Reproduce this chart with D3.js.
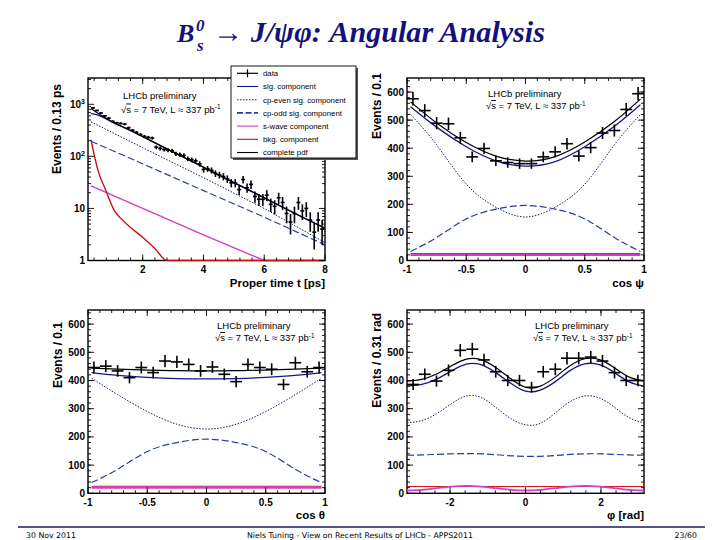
<!DOCTYPE html>
<html><head><meta charset="utf-8">
<script src="https://cdn.jsdelivr.net/npm/d3@7"></script>
<style>body{margin:0;background:#fff} svg{display:block}</style>
</head><body>
<svg id="c" width="720" height="540"></svg>
<script>
// ---------------- DATA ----------------
// Proper time panel
const timeBins = [0.365,0.495,0.625,0.755,0.885,1.015,1.145,1.275,1.405,1.535,1.665,1.795,1.925,2.055,2.185,2.315,2.445,2.575,2.705,2.835,2.965,3.095,3.225,3.355,3.485,3.615,3.745,3.875,4.005,4.135,4.265,4.395,4.525,4.655,4.785,4.915,5.045,5.175,5.305,5.435,5.565,5.695,5.825,5.955,6.085,6.215,6.345,6.475,6.605,6.735,6.865,6.995,7.125,7.255,7.385,7.515,7.645,7.775,7.905];
const timeCounts = [850,760,680,600,540,470,440,430,415,355,318,290,262,242,232,225,150,142,135,132,128,112,108,104,90,86,82,72,56,58,54,47,44,41,37,31,31,23,36,25,29,17,15,15,18,12,11,16,13,8,5.5,8,13,9,10,6,3.5,6,4];
const tGrid = [0.3,0.5,0.75,1,1.5,2,2.5,3,3.5,4,4.5,5,5.5,6,6.5,7,7.5,8];
const tComplete = [830,690,560,460,335,240,171,122,87,62,44,31.5,22.5,16,11.4,8.1,5.8,4.2];
const tSig = [660,625,540,452,333,239,170,121.5,86.7,61.8,43.9,31.4,22.4,15.9,11.35,8.07,5.78,4.18];
const tGrid2 = [0.3,2,4,6,8];
const tEven = [460,147,39,10,2.2];
const tOdd = [195,72,22,6.8,2.0];
const tSwave = [27,10,3.1,0.95,0.29];
const tBkgGrid = [0.3,0.4,0.5,0.6,0.75,0.9,1.05,1.3,1.6,2,2.4,2.8,4,8];
const tBkg = [210,110,62,40,25,15,9.5,6.3,4.3,2.8,1.7,1.0,0.4,0.02];

// cos psi panel
const cosBins = [-0.95,-0.85,-0.75,-0.65,-0.55,-0.45,-0.35,-0.25,-0.15,-0.05,0.05,0.15,0.25,0.35,0.45,0.55,0.65,0.75,0.85,0.95];
const psiCounts = [576,534,489,487,437,369,399,355,349,345,345,369,387,416,372,402,454,463,538,594];
const cosGrid = [-0.97,-0.75,-0.5,-0.25,0,0.25,0.5,0.75,0.97];
const psiComplete = [565,490,420,372,354,370,422,495,575];
const psiSig = [548,475,405,355,336,352,405,478,555];
const psiEven = [520,412,272,190,155,190,272,412,520];
const psiOdd = [32,82,148,183,196,183,148,82,32];
const psiSwave = [20,20,20,20,20,20,20,20,20];
const psiBkg = [25,25,25,25,25,25,25,25,25];

// cos theta panel
const thetaCounts = [446,451,434,410,446,428,469,466,457,434,448,422,396,457,446,440,386,463,431,446];
const thetaComplete = [444,440,437,435,434,435,437,440,444];
const thetaSig = [428,418,411,407,406,407,411,418,428];
const thetaEven = [408,350,290,245,228,245,290,350,408];
const thetaOdd = [38,85,148,180,192,180,148,85,38];
const thetaSwave = [20,20,20,20,20,20,20,20,20];
const thetaBkg = [25,25,25,25,25,25,25,25,25];

// phi panel
const phiBins = [-2.98,-2.67,-2.36,-2.04,-1.73,-1.41,-1.10,-0.79,-0.47,-0.16,0.16,0.47,0.79,1.10,1.41,1.73,2.04,2.36,2.67,2.98];
const phiCounts = [386,422,398,436,507,511,473,431,400,400,376,431,440,479,479,483,469,428,400,400];
const phiGrid = [-3.14,-2.75,-2.36,-1.96,-1.57,-1.18,-0.79,-0.39,0,0.39,0.79,1.18,1.57,1.96,2.36,2.75,3.14];
const phiComplete = [398,404,423,452,476,474,446,406,376,380,412,452,477,474,445,412,398];
const phiSig = [380,386,405,434,458,456,428,390,362,366,396,435,459,456,428,395,380];
const phiEven = [250,258,282,318,345,340,305,265,243,248,285,325,345,338,305,268,250];
const phiOdd = [135,136,138,140,141,140,137,133,131,131,134,138,140,140,138,136,135];
const phiSwave = [10,12,18,24,26,24,18,12,10,12,18,24,26,24,18,12,10];
const phiBkg = [24,24,24,24,24,24,24,24,24,24,24,24,24,24,24,24,24];

const legendLabels = ["data","sig. component","cp-even sig. component","cp-odd sig. component","s-wave component","bkg. component","complete pdf"];

// ---------------- STYLES ----------------
const ST = {
  even:  {stroke:'#1a1a80', dash:'1.5,1.5', w:1},
  odd:   {stroke:'#2a3aa8', dash:'7,3', w:1.2},
  swave: {stroke:'#d23ec8', dash:null, w:1.5},
  bkg:   {stroke:'#cc1111', dash:null, w:1},
  sig:   {stroke:'#14148c', dash:null, w:1.3},
  total: {stroke:'#000000', dash:null, w:1.2}
};
const FONT = "'Liberation Sans', Arial, sans-serif";
const svg = d3.select('#c');
let clipN = 0;

function drawPanel(cfg){
  const g = svg.append('g');
  const x = d3.scaleLinear().domain(cfg.xd).range([cfg.l, cfg.r]);
  const y = cfg.log ? d3.scaleLog().domain(cfg.yd).range([cfg.b, cfg.t]).clamp(true)
                    : d3.scaleLinear().domain(cfg.yd).range([cfg.b, cfg.t]);
  const cid = 'clip' + (clipN++);
  svg.append('clipPath').attr('id', cid).append('rect')
    .attr('x', cfg.l).attr('y', cfg.t).attr('width', cfg.r - cfg.l).attr('height', cfg.b - cfg.t + 1.6);
  // frame first (curves drawn over it, as in ROOT)
  g.append('rect').attr('x', cfg.l).attr('y', cfg.t).attr('width', cfg.r - cfg.l).attr('height', cfg.b - cfg.t)
    .attr('fill','none').attr('stroke','#000').attr('stroke-width',1.4);
  const pg = g.append('g').attr('clip-path', `url(#${cid})`);
  cfg.curves.forEach(c => {
    const st = ST[c.s];
    const line = d3.line().x((d,i) => x(c.xs[i])).y(d => y(d)).curve(c.curve || d3.curveMonotoneX);
    pg.append('path').attr('d', line(c.ys)).attr('fill','none')
      .attr('stroke', st.stroke).attr('stroke-width', c.w || st.w)
      .attr('stroke-dasharray', st.dash);
  });
  // data
  cfg.bins.forEach((b,i) => {
    const v = cfg.counts[i], e = Math.sqrt(v);
    pg.append('line').attr('x1', x(b)).attr('x2', x(b))
      .attr('y1', y(Math.max(v - e, cfg.log ? 0.5 : 0))).attr('y2', y(v + e))
      .attr('stroke','#000').attr('stroke-width', 1.6);
    pg.append('line').attr('x1', x(b - cfg.half)).attr('x2', x(b + cfg.half))
      .attr('y1', y(v)).attr('y2', y(v)).attr('stroke','#000').attr('stroke-width', 1.6);
  });
  // ticks
  const tk = (x1,y1,x2,y2) => g.append('line').attr('x1',x1).attr('y1',y1).attr('x2',x2).attr('y2',y2).attr('stroke','#000').attr('stroke-width',0.9);
  cfg.xMinor.forEach(v => { const px = x(v); if (px < cfg.l+0.5 || px > cfg.r-0.5) return; tk(px,cfg.b,px,cfg.b-3); tk(px,cfg.t,px,cfg.t+3); });
  cfg.xMajor.forEach(v => { const px = x(v); tk(px,cfg.b,px,cfg.b-6); tk(px,cfg.t,px,cfg.t+6); });
  cfg.yMinor.forEach(v => { const py = y(v); if (py < cfg.t+0.5 || py > cfg.b-0.5) return; tk(cfg.l,py,cfg.l+3,py); tk(cfg.r,py,cfg.r-3,py); });
  cfg.yMajor.forEach(v => { const py = y(v); tk(cfg.l,py,cfg.l+6,py); tk(cfg.r,py,cfg.r-6,py); });
  // tick labels
  cfg.xMajor.forEach((v,i) => {
    g.append('text').attr('x', x(v)).attr('y', cfg.b + 12.5).attr('text-anchor','middle')
      .attr('font-family',FONT).attr('font-weight','bold').attr('font-size',10).text(cfg.xLab[i]);
  });
  cfg.yMajor.forEach((v,i) => {
    const t = g.append('text').attr('x', cfg.l - 3).attr('y', y(v) + 3.5).attr('text-anchor','end')
      .attr('font-family',FONT).attr('font-weight','bold').attr('font-size',10);
    const lab = cfg.yLab[i];
    if (Array.isArray(lab)) { t.append('tspan').text(lab[0]); t.append('tspan').attr('dy',-4).attr('font-size',7).text(lab[1]); }
    else t.text(lab);
  });
  // axis titles
  g.append('text').attr('transform', `translate(${cfg.yTitleX},${cfg.yTitleEnd}) rotate(-90)`)
    .attr('text-anchor','end').attr('dy','0.35em').attr('font-family',FONT).attr('font-weight','bold').attr('font-size',12).text(cfg.yTitle);
  g.append('text').attr('x', cfg.r).attr('y', cfg.b + 26).attr('text-anchor','end')
    .attr('font-family',FONT).attr('font-weight','bold').attr('font-size',11.5).text(cfg.xTitle);
  // LHCb text
  const f = "'Liberation Sans', Arial, sans-serif";
  g.append('text').attr('x', cfg.tx).attr('y', cfg.ty).attr('font-family',f).attr('font-size',9.5).text('LHCb preliminary');
  const t2 = g.append('text').attr('x', cfg.tx - 2).attr('y', cfg.ty + cfg.tdy).attr('font-family',f).attr('font-size',9.5);
  t2.append('tspan').text('\u221A');
  t2.append('tspan').attr('style','text-decoration: overline').text('s');
  t2.append('tspan').text(' = 7 TeV, L \u2248 337 pb');
  t2.append('tspan').attr('dy',-3.5).attr('font-size',6.5).text('-1');
  return {x, y, g};
}

const range = (a,b,s) => { const r=[]; for(let v=a; v<=b+1e-9; v+=s) r.push(+v.toFixed(6)); return r; };
const logMinor = [];
[1,10,100,1000].forEach(d => [2,3,4,5,6,7,8,9].forEach(m => logMinor.push(d*m)));

// Panel 1: proper time
drawPanel({l:88, r:325, t:78, b:260.5, xd:[0.2,8], yd:[1,3200], log:true,
  xMajor:[2,4,6,8], xLab:['2','4','6','8'], xMinor: range(0.4,8,0.4),
  yMajor:[1,10,100,1000], yLab:['1','10',['10','2'],['10','3']], yMinor: logMinor,
  yTitle:'Events / 0.13 ps', yTitleX:57, yTitleEnd:84, xTitle:'Proper time t [ps]',
  tx:123, ty:99, tdy:13.5,
  bins: timeBins, counts: timeCounts, half:0.065,
  curves:[
    {xs:tGrid2, ys:tEven, s:'even', curve:d3.curveLinear},
    {xs:tGrid2, ys:tOdd, s:'odd', curve:d3.curveLinear},
    {xs:tGrid2, ys:tSwave, s:'swave', curve:d3.curveLinear, w:1.4},
    {xs:tBkgGrid, ys:tBkg, s:'bkg', w:1.4},
    {xs:tGrid, ys:tSig, s:'sig'},
    {xs:tGrid, ys:tComplete, s:'total'}
  ]});

const angY = {yd:[0,650], log:false, yMajor:[0,100,200,300,400,500,600], yLab:['0','100','200','300','400','500','600'], yMinor: range(0,640,20)};

// Panel 2: cos psi
drawPanel(Object.assign({l:407, r:644, t:78, b:260.5, xd:[-1,1],
  xMajor:[-1,-0.5,0,0.5,1], xLab:['-1','-0.5','0','0.5','1'], xMinor: range(-1,1,0.1),
  yTitle:'Events / 0.1', yTitleX:377, yTitleEnd:73, xTitle:'cos \u03C8',
  tx:488, ty:97, tdy:12,
  bins: cosBins, counts: psiCounts, half:0.05,
  curves:[
    {xs:cosGrid, ys:psiEven, s:'even', curve:d3.curveNatural},
    {xs:cosGrid, ys:psiOdd, s:'odd', curve:d3.curveNatural},
    {xs:cosGrid, ys:psiBkg, s:'bkg', curve:d3.curveNatural},
    {xs:cosGrid, ys:psiSwave, s:'swave', curve:d3.curveNatural, w:2.2},
    {xs:cosGrid, ys:psiSig, s:'sig', curve:d3.curveNatural},
    {xs:cosGrid, ys:psiComplete, s:'total', curve:d3.curveNatural}
  ]}, angY));

// Panel 3: cos theta
drawPanel(Object.assign({l:88, r:325, t:310, b:493.3, xd:[-1,1],
  xMajor:[-1,-0.5,0,0.5,1], xLab:['-1','-0.5','0','0.5','1'], xMinor: range(-1,1,0.1),
  yTitle:'Events / 0.1', yTitleX:58, yTitleEnd:322, xTitle:'cos \u03B8',
  tx:217, ty:329, tdy:12,
  bins: cosBins, counts: thetaCounts, half:0.05,
  curves:[
    {xs:cosGrid, ys:thetaEven, s:'even', curve:d3.curveNatural},
    {xs:cosGrid, ys:thetaOdd, s:'odd', curve:d3.curveNatural},
    {xs:cosGrid, ys:thetaBkg, s:'bkg', curve:d3.curveNatural},
    {xs:cosGrid, ys:thetaSwave, s:'swave', curve:d3.curveNatural, w:2.2},
    {xs:cosGrid, ys:thetaSig, s:'sig', curve:d3.curveNatural},
    {xs:cosGrid, ys:thetaComplete, s:'total', curve:d3.curveNatural}
  ]}, angY));

// Panel 4: phi
drawPanel(Object.assign({l:407, r:644, t:310, b:493.3, xd:[-Math.PI, Math.PI],
  xMajor:[-2,0,2], xLab:['-2','0','2'], xMinor: range(-2.8,2.8,0.4),
  yTitle:'Events / 0.31 rad', yTitleX:377, yTitleEnd:313, xTitle:'\u03C6 [rad]',
  tx:535, ty:329, tdy:12,
  bins: phiBins, counts: phiCounts, half:0.157,
  curves:[
    {xs:phiGrid, ys:phiEven, s:'even', curve:d3.curveNatural},
    {xs:phiGrid, ys:phiOdd, s:'odd', curve:d3.curveNatural},
    {xs:phiGrid, ys:phiBkg, s:'bkg', curve:d3.curveNatural},
    {xs:phiGrid, ys:phiSwave, s:'swave', curve:d3.curveNatural, w:1.8},
    {xs:phiGrid, ys:phiSig, s:'sig', curve:d3.curveNatural},
    {xs:phiGrid, ys:phiComplete, s:'total', curve:d3.curveNatural}
  ]}, angY));

// Legend (panel 1)
(function(){
  const L = {x:231, y:66, w:125, h:92};
  const lg = svg.append('g');
  lg.append('rect').attr('x',L.x+2).attr('y',L.y+2).attr('width',L.w).attr('height',L.h).attr('fill','#555');
  lg.append('rect').attr('x',L.x).attr('y',L.y).attr('width',L.w).attr('height',L.h).attr('fill','#fff').attr('stroke','#000').attr('stroke-width',0.9);
  const keys = ['data','sig','even','odd','swave','bkg','total'];
  keys.forEach((k,i) => {
    const yy = L.y + 7.3 + i*13.2;
    if (k === 'data') {
      lg.append('line').attr('x1',237).attr('x2',258).attr('y1',yy).attr('y2',yy).attr('stroke','#000').attr('stroke-width',1.2);
      lg.append('line').attr('x1',247.5).attr('x2',247.5).attr('y1',yy-4).attr('y2',yy+4).attr('stroke','#000').attr('stroke-width',1.2);
    } else {
      const st = ST[k];
      lg.append('line').attr('x1',237).attr('x2',258).attr('y1',yy).attr('y2',yy)
        .attr('stroke',st.stroke).attr('stroke-width', k==='odd'?1.8:1.1).attr('stroke-dasharray', k==='odd'?'6,2.5':st.dash);
    }
    lg.append('text').attr('x',263).attr('y',yy+2.8).attr('font-family',FONT).attr('font-size',7.8).text(legendLabels[i]);
  });
})();

// Title
(function(){
  const tf = "'Liberation Serif','Times New Roman',serif";
  const col = '#12127a';
  const mk = (x,y,s,txt) => svg.append('text').attr('x',x).attr('y',y).attr('font-family',tf)
     .attr('font-weight','bold').attr('font-style','italic').attr('font-size',s).attr('fill',col).text(txt);
  mk(177,42,26,'B');
  mk(196,31,17,'0');
  mk(197,51,17,'s');
  const m = mk(213,42,26,'\u2192 J/\u03C8\u03C6: Angular Analysis');
  const len = m.node().getComputedTextLength();
  m.attr('font-size', 26*332/len);
})();

// Footer
svg.append('line').attr('x1',18).attr('x2',705).attr('y1',527).attr('y2',527).attr('stroke','#1b1b5e').attr('stroke-width',1.3);
const ff = "'DejaVu Sans', Verdana, sans-serif";
svg.append('text').attr('x',26).attr('y',538).attr('font-family',ff).attr('font-size',7.8).text('30 Nov 2011');
svg.append('text').attr('x',360).attr('y',538).attr('text-anchor','middle').attr('font-family',ff).attr('font-size',7.8).text('Niels Tuning  -  View on Recent Results of LHCb  -  APPS2011');
svg.append('text').attr('x',697).attr('y',538).attr('text-anchor','end').attr('font-family',ff).attr('font-size',7.8).text('23/60');
</script>
</body></html>
